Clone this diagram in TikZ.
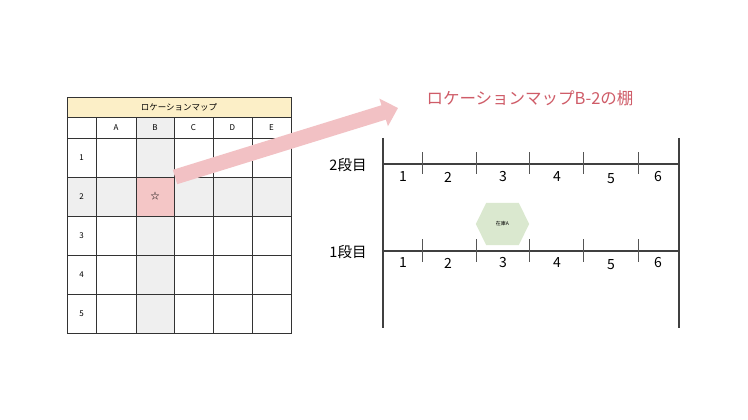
\documentclass[tikz,border=0pt]{standalone}
\usepackage{fontspec}
\setmainfont{Noto Sans CJK JP}
\usetikzlibrary{arrows.meta,calc,backgrounds}
\definecolor{gridc}{HTML}{333333}
\definecolor{hdr}{HTML}{FCEFC7}
\definecolor{graybg}{HTML}{EFEFEF}
\definecolor{pinkcell}{HTML}{F4C6C6}
\definecolor{arrowc}{HTML}{F2C1C4}
\definecolor{titlec}{HTML}{CF5C68}
\definecolor{shelfc}{HTML}{404040}
\definecolor{tickc}{HTML}{555555}
\definecolor{hexc}{HTML}{DAE8CF}
\begin{document}
\begin{tikzpicture}[x=1pt,y=-1pt,
  cell/.style={draw=gridc, line width=0.7pt, inner sep=0pt, outer sep=0pt,
    minimum height=39pt, font=\fontsize{8}{9}\selectfont},
  shelfline/.style={draw=shelfc, line width=2pt},
  tickline/.style={draw=tickc, line width=0.8pt},
  num/.style={inner sep=0pt, font=\fontsize{14}{16}\selectfont},
  tier/.style={inner sep=0pt, font=\fontsize{14.5}{16}\selectfont},
  bigarrow/.style={draw=arrowc, line width=15pt, -{Triangle[width=28pt,length=15pt]}}]
\useasboundingbox (0,0) rectangle (748,420);

% ---- location map table ----
\node[cell, fill=hdr, minimum width=224pt, minimum height=20pt, font=\fontsize{8.5}{10}\selectfont] (maptitle) at (179,107) {ロケーションマップ};
\node[cell, minimum width=29pt, minimum height=21pt] (h-0) at (81.5,127.5) {};
\node[cell, minimum width=40pt, minimum height=21pt] (h-A) at (116,127.5) {A};
\node[cell, fill=graybg, minimum width=38pt, minimum height=21pt] (h-B) at (155,127.5) {B};
\node[cell, minimum width=39pt, minimum height=21pt] (h-C) at (193.5,127.5) {C};
\node[cell, minimum width=39pt, minimum height=21pt] (h-D) at (232.5,127.5) {D};
\node[cell, minimum width=39pt, minimum height=21pt] (h-E) at (271.5,127.5) {E};
\foreach \r/\y in {1/157.5,3/235.5,4/274.5,5/313.5}{
  \node[cell, minimum width=29pt] (r\r-0) at (81.5,\y) {\r};
  \node[cell, minimum width=40pt] (r\r-A) at (116,\y) {};
  \node[cell, fill=graybg, minimum width=38pt] (r\r-B) at (155,\y) {};
  \node[cell, minimum width=39pt] (r\r-C) at (193.5,\y) {};
  \node[cell, minimum width=39pt] (r\r-D) at (232.5,\y) {};
  \node[cell, minimum width=39pt] (r\r-E) at (271.5,\y) {};
}
\node[cell, fill=graybg, minimum width=29pt] (r2-0) at (81.5,196.5) {2};
\node[cell, fill=graybg, minimum width=40pt] (r2-A) at (116,196.5) {};
\node[cell, fill=pinkcell, minimum width=38pt, font=\fontsize{9}{10}\selectfont] (r2-B) at (155,196.5) {☆};
\node[cell, fill=graybg, minimum width=39pt] (r2-C) at (193.5,196.5) {};
\node[cell, fill=graybg, minimum width=39pt] (r2-D) at (232.5,196.5) {};
\node[cell, fill=graybg, minimum width=39pt] (r2-E) at (271.5,196.5) {};

% ---- title on the right ----
\node[inner sep=0pt, text=titlec, font=\fontsize{16.5}{18}\selectfont] (title) at (530,98) {ロケーションマップB-2の棚};

% ---- arrow ----
\coordinate (tip) at (398,108);
\draw[bigarrow] ($(r2-B.north east)+(1,0)$) -- (tip);

% ---- shelf ----
\coordinate (lt) at (383,138);
\coordinate (lb) at (383,328);
\coordinate (rt) at (679,138);
\coordinate (rb) at (679,328);
\coordinate (u0) at (383,164);
\coordinate (u6) at (679,164);
\coordinate (d0) at (383,251);
\coordinate (d6) at (679,251);
\draw[shelfline] (lt) -- (lb);
\draw[shelfline] (rt) -- (rb);
\draw[shelfline] (u0) -- (u6);
\draw[shelfline] (d0) -- (d6);
\foreach \x in {422,476,529,583,638}{
  \draw[tickline] (\x,152) -- (\x,174);
  \draw[tickline] (\x,239) -- (\x,262);
}
\foreach \n/\x/\dy in {1/403/0,2/448/0,3/503/0,4/557/0,5/611/2,6/658/0}{
  \node[num] (up\n) at (\x,177+\dy) {\n};
  \node[num] (lo\n) at (\x,263+\dy) {\n};
}
\node[tier] (tier2) at (348,165) {2段目};
\node[tier] (tier1) at (348,252) {1段目};

% ---- stock hexagon ----
\node[inner sep=0pt, minimum width=53pt, minimum height=42pt, font=\fontsize{5}{6}\selectfont] (stock) at (502.5,224) {在庫A};
\begin{scope}[on background layer]
\fill[white] (0,0) rectangle (748,420);
\fill[hexc] (stock.west) -- ($(stock.north west)+(10.5,0)$) -- ($(stock.north east)+(-10.5,0)$) -- (stock.east) -- ($(stock.south east)+(-10.5,0)$) -- ($(stock.south west)+(10.5,0)$) -- cycle;
\end{scope}
\end{tikzpicture}
\end{document}
